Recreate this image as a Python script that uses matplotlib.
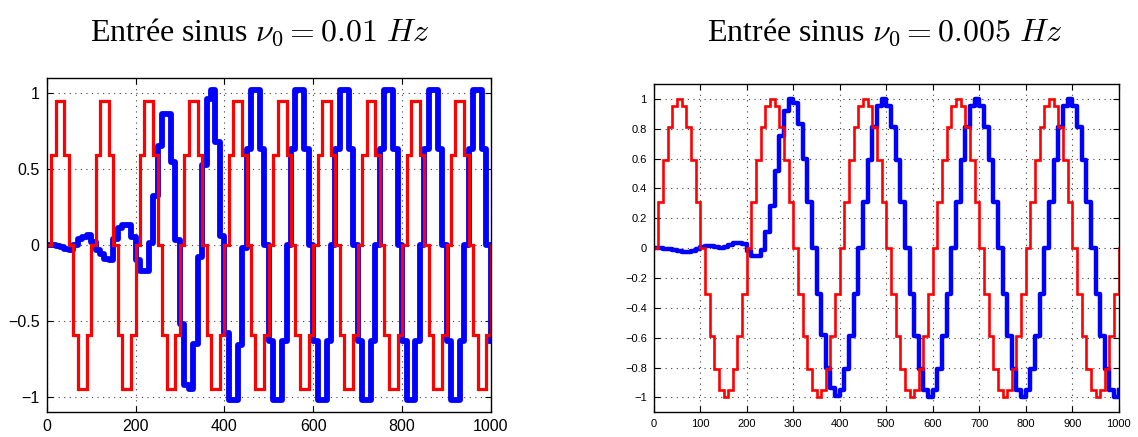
import matplotlib
matplotlib.use("Agg")
import matplotlib.pyplot as plt
import numpy as np

# ---- data (sampled every 10 s, zero-order hold) ----
t = np.arange(0, 1001, 10)

# input 0.01 Hz (red)
u_left = [
    0, 0.59, 0.95, 0.95, 0.59, 0, -0.59, -0.95, -0.95, -0.59,
    0, 0.59, 0.95, 0.95, 0.59, 0, -0.59, -0.95, -0.95, -0.59,
    0, 0.59, 0.95, 0.95, 0.59, 0, -0.59, -0.95, -0.95, -0.59,
    0, 0.59, 0.95, 0.95, 0.59, 0, -0.59, -0.95, -0.95, -0.59,
    0, 0.59, 0.95, 0.95, 0.59, 0, -0.59, -0.95, -0.95, -0.59,
    0, 0.59, 0.95, 0.95, 0.59, 0, -0.59, -0.95, -0.95, -0.59,
    0, 0.59, 0.95, 0.95, 0.59, 0, -0.59, -0.95, -0.95, -0.59,
    0, 0.59, 0.95, 0.95, 0.59, 0, -0.59, -0.95, -0.95, -0.59,
    0, 0.59, 0.95, 0.95, 0.59, 0, -0.59, -0.95, -0.95, -0.59,
    0, 0.59, 0.95, 0.95, 0.59, 0, -0.59, -0.95, -0.95, -0.59,
    0,
]

# output 0.01 Hz (blue)
y_left = [
    0, 0, -0.005, -0.015, -0.025, -0.03, 0.0, 0.04, 0.055, 0.065,
    0.02, -0.03, -0.06, -0.09, -0.1, 0.04, 0.11, 0.13, 0.13, 0.05,
    -0.1, -0.17, -0.17, 0.01, 0.32, 0.65, 0.86, 0.86, 0.55, 0.03,
    -0.52, -0.92, -0.95, -0.65, -0.08, 0.53, 0.96, 1.02, 0.68, 0.06,
    -0.58, -1.02, -1.02, -0.66, -0.02, 0.63, 1.02, 1.02, 0.63, 0,
    -0.63, -1.02, -1.02, -0.63, 0, 0.63, 1.02, 1.02, 0.63, 0,
    -0.63, -1.02, -1.02, -0.63, 0, 0.63, 1.02, 1.02, 0.63, 0,
    -0.63, -1.02, -1.02, -0.63, 0, 0.63, 1.02, 1.02, 0.63, 0,
    -0.63, -1.02, -1.02, -0.63, 0, 0.63, 1.02, 1.02, 0.63, 0,
    -0.63, -1.02, -1.02, -0.63, 0, 0.63, 1.02, 1.02, 0.63, 0,
    -0.63,
]

# input 0.005 Hz (red)
u_right = [
    0, 0.31, 0.59, 0.81, 0.95, 1.0, 0.95, 0.81, 0.59, 0.31,
    0, -0.31, -0.59, -0.81, -0.95, -1.0, -0.95, -0.81, -0.59, -0.31,
    0, 0.31, 0.59, 0.81, 0.95, 1.0, 0.95, 0.81, 0.59, 0.31,
    0, -0.31, -0.59, -0.81, -0.95, -1.0, -0.95, -0.81, -0.59, -0.31,
    0, 0.31, 0.59, 0.81, 0.95, 1.0, 0.95, 0.81, 0.59, 0.31,
    0, -0.31, -0.59, -0.81, -0.95, -1.0, -0.95, -0.81, -0.59, -0.31,
    0, 0.31, 0.59, 0.81, 0.95, 1.0, 0.95, 0.81, 0.59, 0.31,
    0, -0.31, -0.59, -0.81, -0.95, -1.0, -0.95, -0.81, -0.59, -0.31,
    0, 0.31, 0.59, 0.81, 0.95, 1.0, 0.95, 0.81, 0.59, 0.31,
    0, -0.31, -0.59, -0.81, -0.95, -1.0, -0.95, -0.81, -0.59, -0.31,
    0,
]

# output 0.005 Hz (blue)
y_right = [
    0, 0, -0.003, -0.008, -0.015, -0.022, -0.028, -0.028, -0.02, -0.008,
    0.005, 0.012, 0.012, 0.005, 0.002, 0.008, 0.02, 0.032, 0.035, 0.025,
    -0.02, -0.055, -0.055, -0.01, 0.11, 0.28, 0.52, 0.75, 0.92, 1.0,
    0.97, 0.83, 0.6, 0.31, 0, -0.31, -0.58, -0.8, -0.94, -0.99,
    -0.95, -0.81, -0.59, -0.31, 0, 0.31, 0.59, 0.81, 0.95, 1.0,
    0.95, 0.81, 0.59, 0.31, 0, -0.31, -0.59, -0.81, -0.95, -1.0,
    -0.95, -0.81, -0.59, -0.31, 0, 0.31, 0.59, 0.81, 0.95, 1.0,
    0.95, 0.81, 0.59, 0.31, 0, -0.31, -0.59, -0.81, -0.95, -1.0,
    -0.95, -0.81, -0.59, -0.31, 0, 0.31, 0.59, 0.81, 0.95, 1.0,
    0.95, 0.81, 0.59, 0.31, 0, -0.31, -0.59, -0.81, -0.95, -1.0,
    -0.95,
]

titles = [r"Entrée sinus $\nu_0 = 0.01\ Hz$", r"Entrée sinus $\nu_0 = 0.005\ Hz$"]

plt.rcParams['font.family'] = ['Liberation Sans', 'DejaVu Sans']
plt.rcParams['mathtext.fontset'] = 'cm'

fig = plt.figure(figsize=(11.38, 4.37), dpi=100)

ax1 = fig.add_axes([0.0410, 0.0572, 0.3904, 0.7643])
ax2 = fig.add_axes([0.5745, 0.0565, 0.4086, 0.7513])


def style_axes(ax, xticks, yticks, fs, ylabels=None):
    ax.set_xlim(0, 1000)
    ax.set_ylim(-1.1, 1.1)
    ax.set_xticks(xticks)
    ax.set_yticks(yticks)
    if ylabels is not None:
        ax.set_yticklabels(ylabels)
    ax.tick_params(direction='in', top=True, right=True, labelsize=fs,
                   length=4, width=0.8, pad=5)
    ax.grid(True, linestyle=(0, (1, 4)), color='0.25', linewidth=0.8)
    ax.set_axisbelow(True)
    for s in ax.spines.values():
        s.set_linewidth(1.0)


# left plot
ax1.plot(t, y_left, color='#0000ff', linewidth=4.2, drawstyle='steps-post',
         solid_joinstyle='round')
ax1.plot(t, u_left, color='#ff0000', linewidth=2.3, drawstyle='steps-post',
         solid_joinstyle='miter')
style_axes(ax1, np.arange(0, 1001, 200), [-1, -0.5, 0, 0.5, 1], 11.5,
           ['\u22121', '\u22120.5', '0', '0.5', '1'])

# right plot
ax2.plot(t, y_right, color='#0000ff', linewidth=3.2, drawstyle='steps-post',
         solid_joinstyle='round')
ax2.plot(t, u_right, color='#ff0000', linewidth=1.9, drawstyle='steps-post',
         solid_joinstyle='miter')
yt = np.round(np.arange(-1, 1.01, 0.2), 1)
style_axes(ax2, np.arange(0, 1001, 100), yt, 8,
           ['\u22121' if v == -1 else ('1' if v == 1 else ('0' if v == 0 else
            ('%g' % v).replace('-', '\u2212'))) for v in yt])

# titles
fig.text(0.2285, 0.907, titles[0], ha='center', va='baseline', fontsize=23,
         family='Liberation Serif')
fig.text(0.778, 0.907, titles[1], ha='center', va='baseline', fontsize=23,
         family='Liberation Serif')

fig.savefig('out.png', dpi=100)
